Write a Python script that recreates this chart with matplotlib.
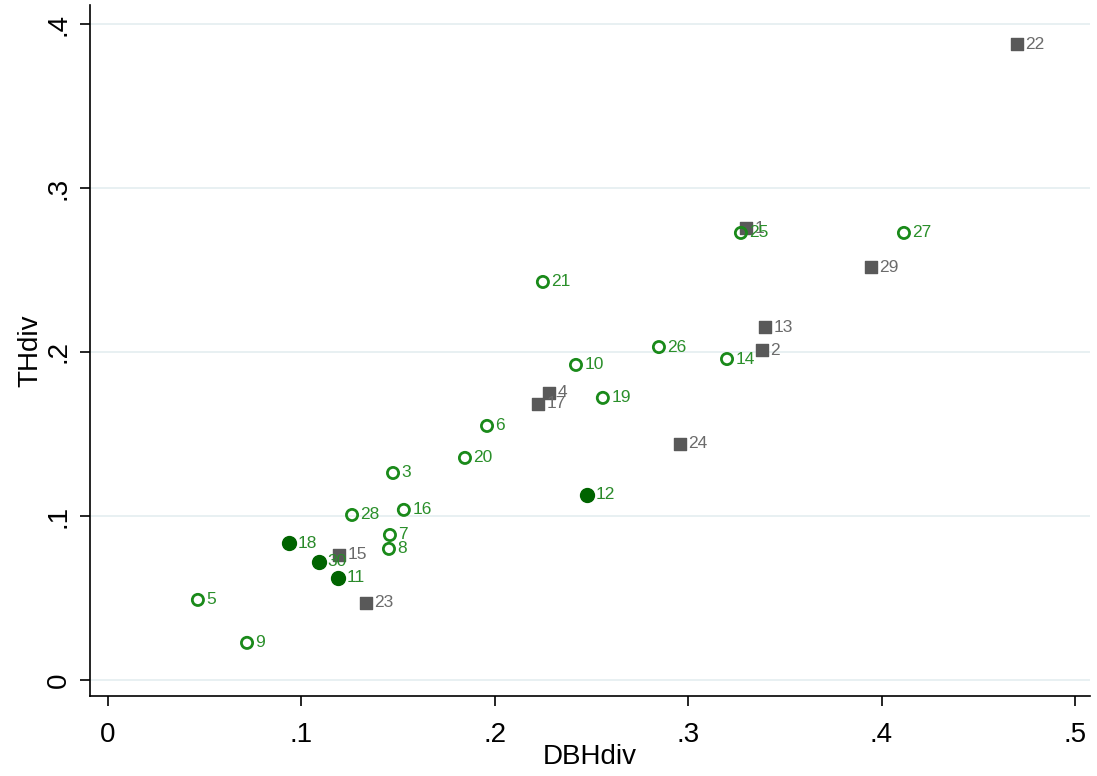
import matplotlib
matplotlib.use("Agg")
import matplotlib.pyplot as plt

plt.rcParams['font.family'] = ['Liberation Sans', 'DejaVu Sans']

# Group: gray squares
sq_ids = [1, 22, 29, 13, 2, 4, 17, 24, 15, 23]
sq_x = [0.330, 0.470, 0.3945, 0.340, 0.338, 0.228, 0.2223, 0.2958, 0.1194, 0.1334]
sq_y = [0.2756, 0.3878, 0.2518, 0.2152, 0.2012, 0.1750, 0.1683, 0.1439, 0.0762, 0.0470]

# Group: hollow green circles
ho_ids = [25, 27, 21, 26, 14, 10, 19, 6, 20, 3, 16, 28, 7, 8, 5, 9]
ho_x = [0.3273, 0.4116, 0.2249, 0.2849, 0.3201, 0.2420, 0.2559, 0.1960, 0.1846, 0.1474,
        0.1530, 0.1262, 0.1458, 0.1453, 0.0465, 0.0719]
ho_y = [0.2726, 0.2726, 0.2427, 0.2030, 0.1957, 0.1921, 0.1720, 0.1549, 0.1354, 0.1262,
        0.1037, 0.1006, 0.0884, 0.0799, 0.0488, 0.0226]

# Group: filled dark green circles
fi_ids = [12, 18, 30, 11]
fi_x = [0.2477, 0.0936, 0.1091, 0.1189]
fi_y = [0.1128, 0.0835, 0.0720, 0.0622]

x_ticks = [0, 0.1, 0.2, 0.3, 0.4, 0.5]
x_ticklabels = ['0', '.1', '.2', '.3', '.4', '.5']
y_ticks = [0, 0.1, 0.2, 0.3, 0.4]
y_ticklabels = ['0', '.1', '.2', '.3', '.4']

fig = plt.figure(figsize=(10.97, 7.76), dpi=100)
ax = fig.add_axes([90/1097, 1-696/776, 1000/1097, 691/776])

for y in y_ticks:
    ax.axhline(y, color='#e6eff1', lw=1.3, zorder=0)

sq_col = '#595959'
sq_lab = '#6b6b6b'
ho_col = '#1a8a1a'
ho_lab = '#2a8f2a'
fi_col = '#006400'
fi_lab = '#2a8a2a'

ax.scatter(sq_x, sq_y, marker='s', s=80, color=sq_col, zorder=3)
ax.scatter(ho_x, ho_y, marker='o', s=65, facecolors='none', edgecolors=ho_col,
           linewidths=2, zorder=3)
ax.scatter(fi_x, fi_y, marker='o', s=100, color=fi_col, zorder=3)

def lab(ids, xs, ys, col):
    for i, x, y in zip(ids, xs, ys):
        ax.annotate(str(i), (x, y), xytext=(6, 0), textcoords='offset points',
                    va='center', ha='left', fontsize=12.5, color=col, zorder=4)

lab(sq_ids, sq_x, sq_y, sq_lab)
lab(ho_ids, ho_x, ho_y, ho_lab)
lab(fi_ids, fi_x, fi_y, fi_lab)

ax.set_xlim(-0.0093, 0.5078)
ax.set_ylim(-0.0098, 0.4116)
ax.set_xticks(x_ticks)
ax.set_xticklabels(x_ticklabels)
ax.set_yticks(y_ticks)
ax.set_yticklabels(y_ticklabels, rotation=90, va='center')
ax.tick_params(axis='both', direction='out', length=7, width=1.2, labelsize=20,
               colors='black')
ax.tick_params(axis='x', pad=12)
ax.tick_params(axis='y', pad=6)
for s in ['top', 'right']:
    ax.spines[s].set_visible(False)
for s in ['left', 'bottom']:
    ax.spines[s].set_linewidth(1.2)
ax.set_xlabel('DBHdiv', fontsize=20, labelpad=-3)
ax.set_ylabel('THdiv', fontsize=20, labelpad=2)

fig.savefig('out.png', dpi=100)
